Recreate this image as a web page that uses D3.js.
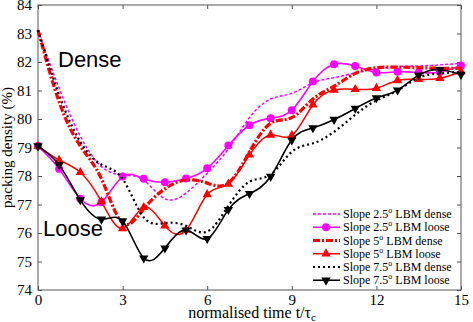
<!DOCTYPE html>
<html>
<head>
<meta charset="utf-8">
<script src="https://cdn.jsdelivr.net/npm/d3@7"></script>
<style>
  body { margin: 0; background: #fff; }
  svg { display: block; }
</style>
</head>
<body>
<div id="myPlot"></div>
<script>
// time axis, every 0.75 tau_c
const times = [0, 0.75, 1.5, 2.25, 3, 3.75, 4.5, 5.25, 6, 6.75, 7.5, 8.25, 9, 9.75, 10.5, 11.25, 12, 12.75, 13.5, 14.25, 15];

const slope25Dense = [83.12, 81.08, 79.4, 78.33, 78.04, 77.85, 77.2, 77.4, 78.1, 78.95, 80.05, 80.7, 80.9, 81.27, 81.45, 81.62, 81.75, 81.84, 81.86, 81.9, 81.95];
const slope25Loose = [79.05, 78.25, 77.2, 77.08, 77.98, 77.9, 77.78, 77.91, 78.27, 79.07, 79.78, 80.03, 80.31, 81.32, 81.92, 81.86, 81.63, 81.66, 81.63, 81.65, 81.88];
const slope5Dense = [83.12, 80.6, 79.05, 77.9, 76.35, 76.85, 77.55, 77.86, 77.75, 77.75, 78.85, 79.85, 80.05, 80.7, 81.15, 81.6, 81.8, 81.82, 81.8, 81.78, 81.78];
const slope5Loose = [79.05, 78.56, 78.13, 77.1, 76.16, 76.9, 76.25, 76.1, 77.35, 77.72, 78.74, 79.44, 79.42, 80.5, 81.02, 81.04, 81.08, 81.35, 81.39, 81.43, 81.66];
const slope75Dense = [83.12, 80.85, 79.2, 78.4, 77.9, 76.55, 76.35, 76.25, 76.05, 76.95, 77.8, 78.05, 78.85, 79.15, 79.55, 80.15, 80.65, 81.0, 81.45, 81.6, 81.66];
const slope75Loose = [79.05, 78.39, 77.16, 76.48, 76.42, 75.12, 75.47, 76.1, 75.8, 76.82, 77.38, 77.98, 79.26, 79.69, 79.98, 80.37, 80.74, 81.01, 81.54, 81.73, 81.56];

const xTicks = [0, 3, 6, 9, 12, 15];
const yTicks = [74, 75, 76, 77, 78, 79, 80, 81, 82, 83, 84];

const seriesNames = ["2.5", "2.5", "5", "5", "7.5", "7.5"];
const seriesKinds = ["dense", "loose", "dense", "loose", "dense", "loose"];

window.onload = () => {
  const width = 473, height = 322;
  const left = 38, right = 461, top = 5, bottom = 290;

  const svg = d3.select("#myPlot").append("svg")
    .attr("width", width)
    .attr("height", height);

  const x = d3.scaleLinear().domain([0, 15]).range([left, right]);
  const y = d3.scaleLinear().domain([74, 84]).range([bottom, top]);

  // styles per series
  const styles = [
    { color: "#ff00ff", width: 1.5, dash: "3,2", marker: null },
    { color: "#ff00ff", width: 1.6, dash: null, marker: "circle" },
    { color: "#ff0000", width: 3.2, dash: "7,2,2,2", marker: null },
    { color: "#ff0000", width: 1.5, dash: null, marker: "up" },
    { color: "#000000", width: 2.2, dash: "2,3", marker: null },
    { color: "#000000", width: 1.6, dash: null, marker: "down" }
  ];
  const allSeries = [slope25Dense, slope25Loose, slope5Dense, slope5Loose, slope75Dense, slope75Loose];

  const serif = "'Liberation Serif', 'Times New Roman', serif";

  // axes with inward ticks
  svg.append("g")
    .attr("transform", "translate(0," + bottom + ")")
    .call(d3.axisBottom(x).tickValues(xTicks).tickSizeInner(-4).tickSizeOuter(0).tickPadding(4));
  svg.append("g")
    .attr("transform", "translate(0," + top + ")")
    .call(d3.axisTop(x).tickValues(xTicks).tickSizeInner(-4).tickSizeOuter(0).tickFormat(""));
  svg.append("g")
    .attr("transform", "translate(" + left + ",0)")
    .call(d3.axisLeft(y).tickValues(yTicks).tickSizeInner(-4).tickSizeOuter(0).tickPadding(6));
  svg.append("g")
    .attr("transform", "translate(" + right + ",0)")
    .call(d3.axisRight(y).tickValues(yTicks).tickSizeInner(-4).tickSizeOuter(0).tickFormat(""));

  svg.selectAll(".domain").remove();
  svg.selectAll(".tick line").attr("stroke", "#555");
  svg.selectAll(".tick text")
    .attr("font-family", serif)
    .attr("font-size", 15)
    .attr("fill", "#000");

  svg.append("rect")
    .attr("x", left).attr("y", top)
    .attr("width", right - left).attr("height", bottom - top)
    .attr("fill", "none")
    .attr("stroke", "#555")
    .attr("stroke-width", 1);

  // curves
  const line = d3.line()
    .x((d, i) => x(times[i]))
    .y(d => y(d))
    .curve(d3.curveNatural);

  const sym = {
    circle: d3.symbol().type(d3.symbolCircle).size(50),
    up: d3.symbol().type(d3.symbolTriangle).size(38),
    down: d3.symbol().type(d3.symbolTriangle).size(38)
  };

  allSeries.forEach((vals, k) => {
    const st = styles[k];
    svg.append("path")
      .datum(vals)
      .attr("d", line)
      .attr("fill", "none")
      .attr("stroke", st.color)
      .attr("stroke-width", st.width)
      .attr("stroke-dasharray", st.dash);

    if (st.marker) {
      svg.append("g")
        .selectAll("path")
        .data(vals).enter()
        .append("path")
        .attr("d", sym[st.marker])
        .attr("transform", (d, i) => "translate(" + x(times[i]) + "," + y(d) + ")" + (st.marker === "down" ? " rotate(180)" : ""))
        .attr("fill", st.color);
    }
  });

  // in-plot labels
  svg.append("text")
    .attr("x", 58).attr("y", 67)
    .attr("font-family", "'Liberation Sans', Arial, sans-serif")
    .attr("font-size", 22)
    .text("Dense");
  svg.append("text")
    .attr("x", 43).attr("y", 236)
    .attr("font-family", "'Liberation Sans', Arial, sans-serif")
    .attr("font-size", 22)
    .text("Loose");

  // axis titles
  const xt = svg.append("text")
    .attr("x", 252).attr("y", 318)
    .attr("text-anchor", "middle")
    .attr("font-family", serif)
    .attr("font-size", 16);
  xt.append("tspan").text("normalised time t/\u03C4");
  xt.append("tspan").attr("dy", 3).attr("font-size", 11).text("c");

  svg.append("text")
    .attr("transform", "translate(12," + ((top + bottom) / 2) + ") rotate(-90)")
    .attr("text-anchor", "middle")
    .attr("font-family", serif)
    .attr("font-size", 15)
    .text("packing density (%)");

  // legend
  const legend = svg.append("g");
  const rowY0 = 214, rowStep = 13.25;
  styles.forEach((st, k) => {
    const ly = rowY0 + k * rowStep;
    legend.append("line")
      .attr("x1", 313).attr("x2", 340)
      .attr("y1", ly).attr("y2", ly)
      .attr("stroke", st.color)
      .attr("stroke-width", st.width)
      .attr("stroke-dasharray", st.dash);
    if (st.marker) {
      legend.append("path")
        .attr("d", sym[st.marker])
        .attr("transform", "translate(326," + ly + ")" + (st.marker === "down" ? " rotate(180)" : ""))
        .attr("fill", st.color);
    }
    const t = legend.append("text")
      .attr("x", 343).attr("y", ly + 4)
      .attr("font-family", serif)
      .attr("font-size", 12);
    t.append("tspan").text("Slope " + seriesNames[k]);
    t.append("tspan").attr("dy", -5).attr("font-size", 8).text("o");
    t.append("tspan").attr("dy", 5).text(" LBM " + seriesKinds[k]);
  });
};
</script>
</body>
</html>
